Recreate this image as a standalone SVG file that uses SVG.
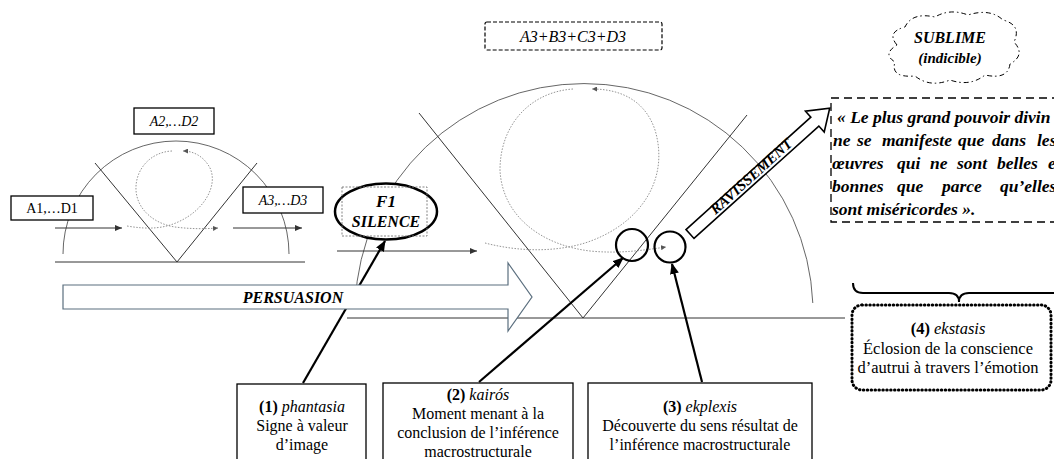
<svg xmlns="http://www.w3.org/2000/svg" width="1054" height="459" viewBox="0 0 1054 459">
<style>
text{font-family:"Liberation Serif","Times New Roman",serif;fill:#000}
.it{font-style:italic}
.bi{font-style:italic;font-weight:bold}
.b{font-weight:bold}
.box{fill:#fff;stroke:#000;stroke-width:1.3}
.thin{fill:none;stroke:#333;stroke-width:1}
.arc{fill:none;stroke:#555;stroke-width:0.9}
.dot{fill:none;stroke:#888;stroke-width:0.9;stroke-dasharray:1.5 1.5}
.thick{fill:none;stroke:#000;stroke-width:2.2}
</style>
<defs>
<marker id="ah" markerWidth="8" markerHeight="6" refX="7" refY="3" orient="auto" markerUnits="userSpaceOnUse"><path d="M0,0 L7,3 L0,6 Z" fill="#333"/></marker>
<marker id="ahs" markerWidth="6" markerHeight="5" refX="5" refY="2.5" orient="auto" markerUnits="userSpaceOnUse"><path d="M0,0 L5,2.5 L0,5 Z" fill="#555"/></marker>
<marker id="ahb" markerWidth="12" markerHeight="9" refX="10" refY="4.5" orient="auto" markerUnits="userSpaceOnUse"><path d="M0,0 L11,4.5 L0,9 Z" fill="#000"/></marker>
</defs>

<!-- small diagram -->
<g id="small-diagram">
<path class="arc" d="M63,254 A113,113 0 0 1 289,254"/>
<line class="thin" x1="55" y1="262" x2="305" y2="262"/>
<polyline class="thin" points="95,163 177,262 257,163"/>
<path class="dot" d="M127,226 C150,230 165,228 178,222 C205,210 218,185 210,168 C203,155 192,151 183,151" marker-end="url(#ahs)"/>
<path class="dot" d="M172,151 C150,152 135,170 136,190 C137,210 155,224 175,227 C190,229 205,229 218,228" marker-end="url(#ahs)"/>
</g>

<!-- big diagram -->
<g id="big-diagram">
<path class="arc" d="M355.2,303 A229,229 0 0 1 812.8,303"/>
<line class="thin" x1="347" y1="318" x2="845" y2="318"/>
<polyline class="thin" points="419,113 583,318 747,115"/>
<path class="dot" d="M485,243 C520,252 555,252 585,243 C640,225 670,180 655,130 C645,100 620,89 592,89" marker-end="url(#ahs)"/>
<path class="dot" d="M573,89 C530,92 500,125 500,170 C502,215 540,245 590,251 C620,254 645,250 666,247" marker-end="url(#ahs)"/>
</g>

<g id="connectors">
<line class="thin" x1="55" y1="228" x2="122" y2="228" marker-end="url(#ah)"/>
<line class="thin" x1="233" y1="228" x2="302" y2="228" marker-end="url(#ah)"/>
<line class="thin" x1="337" y1="251" x2="477" y2="251" marker-end="url(#ah)"/>
<line class="thick" x1="303" y1="383" x2="385" y2="241" marker-end="url(#ahb)"/>
<line class="thick" x1="479" y1="382" x2="623" y2="258" marker-end="url(#ahb)"/>
<line class="thick" x1="702" y1="382" x2="672" y2="264" marker-end="url(#ahb)"/>
</g>

<g id="persuasion">
<path d="M63,285 L508,285 L508,263 L532,297 L508,331 L508,309 L63,309 Z" fill="#fff" stroke="#5b6f7f" stroke-width="1.2"/>
<text class="bi" x="293" y="303" font-size="16" text-anchor="middle">PERSUASION</text>
</g>

<g id="A1">
<rect class="box" x="11" y="196" width="82" height="24"/>
<text x="52" y="213" font-size="14" text-anchor="middle">A1,…D1</text>
</g>
<g id="A2">
<rect class="box" x="134" y="108" width="80" height="26"/>
<text class="it" x="174" y="126" font-size="14" text-anchor="middle">A2,…D2</text>
</g>
<g id="A3">
<rect class="box" x="243" y="187" width="80" height="26"/>
<text class="it" x="283" y="205" font-size="14" text-anchor="middle">A3,…D3</text>
</g>

<g id="A3B3C3D3">
<rect x="485" y="22" width="177" height="28" rx="2" fill="none" stroke="#000" stroke-width="1.2" stroke-dasharray="4 2"/>
<text class="it" x="573" y="42" font-size="16" text-anchor="middle">A3+B3+C3+D3</text>
</g>

<g id="F1">
<ellipse cx="386" cy="211.5" rx="51" ry="28" fill="#fff" stroke="#000" stroke-width="2.5"/>
<rect x="342" y="187" width="85" height="49" fill="none" stroke="#777" stroke-width="0.9" stroke-dasharray="2 1.5"/>
<text class="bi" x="386" y="207" font-size="17" text-anchor="middle">F1</text>
<text class="bi" x="386" y="227" font-size="16" text-anchor="middle">SILENCE</text>
</g>

<g id="circles">
<circle cx="632" cy="245" r="16" fill="none" stroke="#000" stroke-width="2.2"/>
<circle cx="670" cy="247" r="15.5" fill="none" stroke="#000" stroke-width="2.2"/>
</g>

<g id="ravissement" transform="translate(690,234) rotate(-42)">
<path d="M0,-6 L168,-6 L168,-14 L188,0 L168,14 L168,6 L0,6 Z" fill="#fff" stroke="#000" stroke-width="1.6"/>
<text class="bi" x="84" y="3" font-size="15" text-anchor="middle">RAVISSEMENT</text>
</g>

<g id="sublime">
<path d="M897,45 Q886,32 905,27 Q912,12 935,17 Q950,8 968,15 Q990,8 1003,20 Q1022,25 1014,42 Q1026,55 1010,64 Q1008,80 985,75 Q970,87 950,80 Q930,88 915,76 Q890,78 895,62 Q882,54 897,45 Z" fill="none" stroke="#000" stroke-width="1" stroke-dasharray="5 3 1.5 3"/>
<text class="bi" x="950" y="43" font-size="16" text-anchor="middle">SUBLIME</text>
<text class="bi" x="950" y="63" font-size="15" text-anchor="middle">(indicible)</text>
</g>

<g id="quote">
<rect x="831" y="98" width="240" height="124" fill="none" stroke="#000" stroke-width="1.3" stroke-dasharray="8 5"/>
<text class="bi" font-size="17.5"><tspan x="837" y="123">« Le plus grand pouvoir divin</tspan></text>
<text class="bi" font-size="17.5" y="146"><tspan x="833">ne</tspan><tspan x="857">se</tspan><tspan x="882">manifeste</tspan><tspan x="958">que</tspan><tspan x="992">dans</tspan><tspan x="1037">les</tspan></text>
<text class="bi" font-size="17.5" y="169"><tspan x="832">œuvres</tspan><tspan x="897">qui</tspan><tspan x="930">ne</tspan><tspan x="957">sont</tspan><tspan x="997">belles</tspan><tspan x="1048">et</tspan></text>
<text class="bi" font-size="17.5" y="192"><tspan x="832">bonnes</tspan><tspan x="897">que</tspan><tspan x="942">parce</tspan><tspan x="1000">qu’elles</tspan></text>
<text class="bi" font-size="17.5" x="832" y="215">sont miséricordes ».</text>
</g>

<g id="brace">
<path d="M853,283 Q853,293 863,293 L949,293 Q959,293 959,302 Q959,293 969,293 L1060,293" fill="none" stroke="#000" stroke-width="2"/>
</g>

<g id="ekstasis">
<rect x="852" y="305" width="199" height="85" rx="10" fill="none" stroke="#000" stroke-width="3" stroke-linecap="round" stroke-dasharray="0.5 3.4"/>
<text font-size="16.5" text-anchor="middle"><tspan x="948" y="334"><tspan class="b">(4)</tspan> <tspan class="it">ekstasis</tspan></tspan><tspan x="948" y="354">Éclosion de la conscience</tspan><tspan x="948" y="373">d’autrui à travers l’émotion</tspan></text>
</g>

<g id="box1">
<rect class="box" x="237" y="384" width="129" height="90"/>
<text font-size="16" text-anchor="middle"><tspan x="302" y="412"><tspan class="b">(1)</tspan> <tspan class="it">phantasia</tspan></tspan><tspan x="302" y="431">Signe à valeur</tspan><tspan x="302" y="450">d’image</tspan></text>
</g>
<g id="box2">
<rect class="box" x="383" y="383" width="190" height="90"/>
<text font-size="16" text-anchor="middle"><tspan x="478" y="400"><tspan class="b">(2)</tspan> <tspan class="it">kairós</tspan></tspan><tspan x="478" y="419">Moment menant à la</tspan><tspan x="478" y="438">conclusion de l’inférence</tspan><tspan x="478" y="457">macrostructurale</tspan></text>
</g>
<g id="box3">
<rect class="box" x="588" y="383" width="224" height="90"/>
<text font-size="16" text-anchor="middle"><tspan x="700" y="412"><tspan class="b">(3)</tspan> <tspan class="it">ekplexis</tspan></tspan><tspan x="700" y="431">Découverte du sens résultat de</tspan><tspan x="700" y="450">l’inférence macrostructurale</tspan></text>
</g>
</svg>
